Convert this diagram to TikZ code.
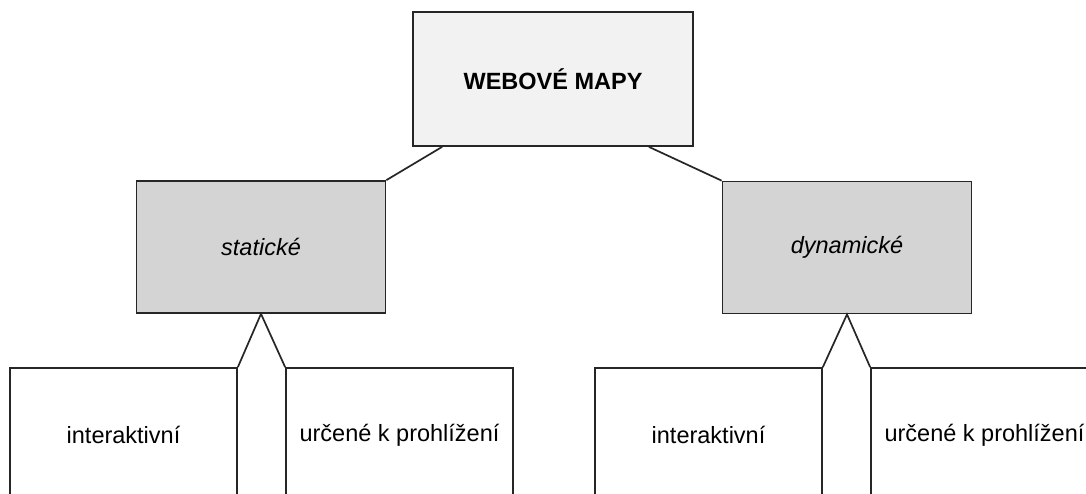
\documentclass[tikz,border=0pt]{standalone}
\usepackage{fontspec}
\setmainfont{Liberation Sans}
\usetikzlibrary{calc}
\definecolor{edge}{HTML}{262626}
\definecolor{topfill}{HTML}{F2F2F2}
\definecolor{grayfill}{HTML}{D4D4D4}
\tikzset{
  box/.style={draw=edge, line width=1.7pt, rectangle, inner sep=0pt, font=\fontsize{23.5}{28}\selectfont},
  topbox/.style={box, fill=topfill, minimum width=280pt, minimum height=134pt, font=\fontsize{23.5}{28}\selectfont\bfseries},
  catbox/.style={box, fill=grayfill, minimum width=249pt, minimum height=132pt, font=\fontsize{23.5}{28}\selectfont\itshape},
  leafbox/.style={box, fill=white, minimum width=227pt, minimum height=134pt},
  conn/.style={draw=edge, line width=1.7pt}
}
\begin{document}
\begin{tikzpicture}[x=1pt, y=-1pt]
\useasboundingbox (0,0) rectangle (1086,493);
\clip (0,0) rectangle (1086,493);
\fill[white] (0,0) rectangle (1086,493);
\node[topbox] (top) at (553,79) {WEBOVÉ MAPY};
\node[catbox] (stat) at (261,247) {statické};
\node[catbox] (dyn) at (847,247.5) {dynamické};
\node[leafbox] (i1) at (123.5,435) {interaktivní};
\node[leafbox] (u1) at (399.5,435) {určené k prohlížení};
\node[leafbox] (i2) at (708.5,435) {interaktivní};
\node[leafbox] (u2) at (984.5,435) {určené k prohlížení};
\coordinate (tl) at ($(top.south west)+(30,0)$);
\coordinate (tr) at ($(top.south east)+(-45,0)$);
\draw[conn] (tl) -- (stat.north east);
\draw[conn] (tr) -- (dyn.north west);
\draw[conn, line join=miter] (i1.north east) -- (stat.south) -- (u1.north west);
\draw[conn, line join=miter] (i2.north east) -- (dyn.south) -- (u2.north west);
\end{tikzpicture}
\end{document}
